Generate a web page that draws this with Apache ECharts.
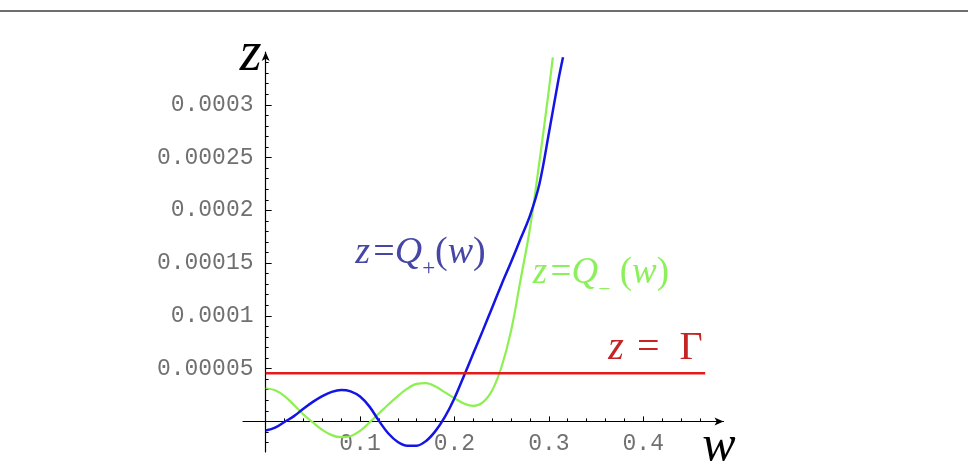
<!DOCTYPE html>
<html><head><meta charset="utf-8">
<script src="https://cdn.jsdelivr.net/npm/echarts@6/dist/echarts.min.js"></script>
<style>html,body{margin:0;padding:0;background:#fff}#c{width:968px;height:468px}</style>
</head><body><div id="c"></div>
<script>
// ---- data ----
const wPlus = [0.00,0.01,0.02,0.03,0.04,0.05,0.06,0.07,0.08,0.09,0.10,0.11,0.12,0.13,0.14,0.15,0.16,0.17,0.18,0.19,0.20,0.21,0.22,0.23,0.24,0.25,0.26,0.27,0.28,0.29,0.30,0.31,0.315];
const qPlus = [-0.87e-5,-0.6e-5,-0.05e-5,0.5e-5,1.2e-5,1.85e-5,2.4e-5,2.8e-5,2.98e-5,2.85e-5,2.35e-5,1.4e-5,0.05e-5,-1.15e-5,-1.95e-5,-2.3e-5,-2.3e-5,-1.85e-5,-0.9e-5,0.45e-5,2.2e-5,4.3e-5,6.45e-5,8.6e-5,10.8e-5,13.0e-5,15.1e-5,17.3e-5,19.5e-5,22.5e-5,27.3e-5,32.3e-5,34.5e-5];
const wMinus = [0.00,0.01,0.02,0.03,0.04,0.05,0.06,0.07,0.08,0.09,0.10,0.11,0.12,0.13,0.14,0.15,0.16,0.17,0.18,0.19,0.20,0.21,0.22,0.23,0.24,0.25,0.26,0.27,0.28,0.29,0.30,0.3042];
const qMinus = [3.14e-5,2.95e-5,2.4e-5,1.55e-5,0.65e-5,-0.1e-5,-0.8e-5,-1.3e-5,-1.5e-5,-1.4e-5,-0.9e-5,-0.1e-5,0.75e-5,1.6e-5,2.4e-5,3.1e-5,3.55e-5,3.62e-5,3.3e-5,2.75e-5,2.2e-5,1.7e-5,1.47e-5,1.8e-5,2.95e-5,5.2e-5,8.6e-5,13.4e-5,18.3e-5,24.6e-5,31.4e-5,34.5e-5];
const gammaW = [0, 0.4656];
const gammaZ = [4.57e-5, 4.57e-5];

const xTickValues = [0.1, 0.2, 0.3, 0.4];
const xTickLabels = ['0.1', '0.2', '0.3', '0.4'];
const xMinorTicks = [0.02,0.04,0.06,0.08,0.12,0.14,0.16,0.18,0.22,0.24,0.26,0.28,0.32,0.34,0.36,0.38,0.42,0.44,0.46];
const yTickValues = [0.00005, 0.0001, 0.00015, 0.0002, 0.00025, 0.0003];
const yTickLabels = ['0.00005', '0.0001', '0.00015', '0.0002', '0.00025', '0.0003'];
const yMinorTicks = [-0.00002,-0.00001,0.00001,0.00002,0.00003,0.00004,0.00006,0.00007,0.00008,0.00009,0.00011,0.00012,0.00013,0.00014,0.00016,0.00017,0.00018,0.00019,0.00021,0.00022,0.00023,0.00024,0.00026,0.00027,0.00028,0.00029,0.00031,0.00032,0.00033,0.00034];

const xRange = [-0.024, 0.485];
const yRange = [-0.000029, 0.00035];

// annotation anchors (data coordinates)
const labelPlusAt = [0.0948, 15.98e-5];
const labelMinusAt = [0.283, 14.08e-5];
const labelGammaAt = [0.3628, 6.95e-5];

function pairs(xs, ys) { return xs.map((x, i) => [x, ys[i]]); }
function lookup(vals, labels) {
  return function (v) {
    let best = 0, d = Infinity;
    vals.forEach((t, i) => { const e = Math.abs(t - v); if (e < d) { d = e; best = i; } });
    return labels[best];
  };
}

const serif = 'Liberation Serif';
const mono = 'Liberation Mono';
function richFor(color, size) {
  return {
    i: { fontFamily: serif, fontStyle: 'italic', fontSize: size, color: color, lineHeight: 56 },
    u: { fontFamily: serif, fontSize: size, color: color, lineHeight: 56 },
    s: { fontFamily: serif, fontSize: Math.round(size * 0.6), color: color, lineHeight: 22, verticalAlign: 'bottom' }
  };
}

const chart = echarts.init(document.getElementById('c'), null, { renderer: 'canvas' });
const tickLine = { color: '#000', width: 1 };
chart.setOption({
  animation: false,
  backgroundColor: '#fff',
  grid: { left: 243, right: 244.5, top: 52, bottom: 16, containLabel: false, outerBoundsMode: 'none' },
  xAxis: [
    {
      type: 'value', min: xRange[0], max: xRange[1], position: 'bottom',
      axisLine: { show: true, onZero: true, onZeroAxisIndex: 0, lineStyle: { color: '#000', width: 1.2 }, symbol: ['none', 'arrow'], symbolSize: [6, 9] },
      axisTick: { show: true, inside: true, length: 5, customValues: xTickValues, lineStyle: tickLine },
      axisLabel: { show: true, customValues: xTickValues, formatter: lookup(xTickValues, xTickLabels), fontFamily: mono, fontSize: 23, color: '#707070', margin: -19.5 },
      splitLine: { show: false },
      name: 'w', nameLocation: 'end', nameGap: -4.5,
      nameTextStyle: { fontFamily: serif, fontStyle: 'italic', fontSize: 50, color: '#000', align: 'center', verticalAlign: 'top', lineHeight: 50 }
    },
    {
      type: 'value', min: xRange[0], max: xRange[1], position: 'bottom',
      axisLine: { show: false, onZero: true, onZeroAxisIndex: 0 },
      axisTick: { show: true, inside: true, length: 3, customValues: xMinorTicks, lineStyle: tickLine },
      axisLabel: { show: false },
      splitLine: { show: false }
    }
  ],
  yAxis: [
    {
      type: 'value', min: yRange[0], max: yRange[1], position: 'left',
      axisLine: { show: true, onZero: true, onZeroAxisIndex: 0, lineStyle: { color: '#000', width: 1.2 }, symbol: ['none', 'arrow'], symbolSize: [6, 9] },
      axisTick: { show: true, inside: true, length: 6, customValues: yTickValues, lineStyle: tickLine },
      axisLabel: { show: true, customValues: yTickValues, formatter: lookup(yTickValues, yTickLabels), fontFamily: mono, fontSize: 23, color: '#707070', margin: -10.5 },
      splitLine: { show: false },
      name: 'z', nameLocation: 'end', nameGap: -3,
      nameTextStyle: { fontFamily: serif, fontStyle: 'italic', fontSize: 56, color: '#000', align: 'right', verticalAlign: 'middle', lineHeight: 56, padding: [0, 4, 0, 0] }
    },
    {
      type: 'value', min: yRange[0], max: yRange[1], position: 'left',
      axisLine: { show: false, onZero: true, onZeroAxisIndex: 0 },
      axisTick: { show: true, inside: true, length: 3, customValues: yMinorTicks, lineStyle: tickLine },
      axisLabel: { show: false },
      splitLine: { show: false }
    }
  ],
  graphic: [
    { type: 'line', shape: { x1: 0, y1: 11, x2: 968, y2: 11 }, style: { stroke: '#6e6e6e', lineWidth: 2 }, silent: true }
  ],
  series: [
    {
      name: 'Q-', type: 'line', xAxisIndex: 0, yAxisIndex: 0, data: pairs(wMinus, qMinus),
      showSymbol: false, smooth: 0.35, lineStyle: { color: '#8cf050', width: 2.2 }, z: 2,
      markPoint: {
        silent: true, symbol: 'circle', symbolSize: 0, animation: false,
        data: [{ coord: labelMinusAt }],
        label: { show: true, position: 'right', distance: 0,
          formatter: '{i|z} {u|=}{i|Q}{s|−}{u| (}{i|w}{u|)}', rich: richFor('#8cf05a', 37) }
      }
    },
    {
      name: 'Q+', type: 'line', xAxisIndex: 0, yAxisIndex: 0, data: pairs(wPlus, qPlus),
      showSymbol: false, smooth: 0.35, lineStyle: { color: '#1414e6', width: 2.5 }, z: 3,
      markPoint: {
        silent: true, symbol: 'circle', symbolSize: 0, animation: false,
        data: [{ coord: labelPlusAt }],
        label: { show: true, position: 'right', distance: 0,
          formatter: '{i|z} {u|=}{i|Q}{s|+}{u|(}{i|w}{u|)}', rich: richFor('#4646a6', 38) }
      }
    },
    {
      name: 'Gamma', type: 'line', xAxisIndex: 0, yAxisIndex: 0, data: pairs(gammaW, gammaZ),
      showSymbol: false, lineStyle: { color: '#e41b1b', width: 2.5 }, z: 4,
      markPoint: {
        silent: true, symbol: 'circle', symbolSize: 0, animation: false,
        data: [{ coord: labelGammaAt }],
        label: { show: true, position: 'right', distance: 0,
          formatter: '{i|z} {u| =  Γ}', rich: richFor('#c42424', 40) }
      }
    }
  ]
});
</script>
</body></html>
